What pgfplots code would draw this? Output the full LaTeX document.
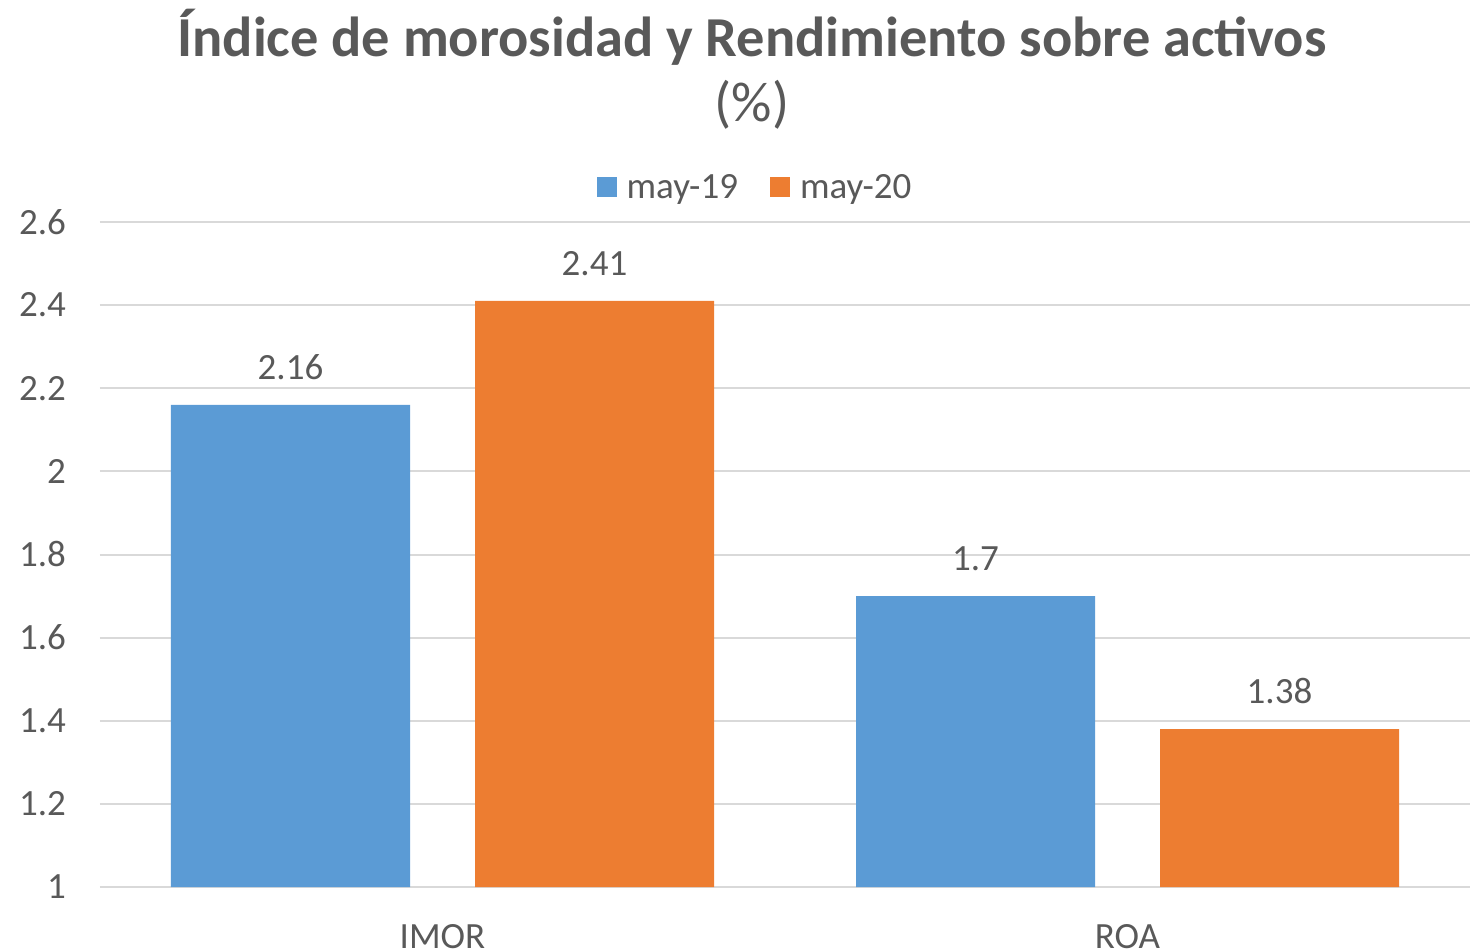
\documentclass[border=0pt]{standalone}
\usepackage{fontspec}
\setmainfont{Carlito}
\usepackage{pgfplots}
\pgfplotsset{compat=1.18}
\definecolor{cblue}{HTML}{5B9BD5}
\definecolor{corange}{HTML}{ED7D31}
\definecolor{txt}{HTML}{595959}
\definecolor{gridc}{HTML}{D9D9D9}
\newcommand{\lbl}{\fontsize{18.5}{22}\selectfont}
\begin{document}
\begin{tikzpicture}
\begin{axis}[
  scale only axis,
  width=685pt, height=332.5pt,
  ybar, bar width=119.5pt,
  xmin=-0.5, xmax=1.5,
  ymin=1, ymax=2.6,
  ytick={1,1.2,...,2.6},
  xtick={0,1}, xticklabels={IMOR,ROA},
  /pgf/number format/assume math mode=true,
  axis y line=left,
  y axis line style={draw=none},
  axis x line*=bottom,
  x axis line style={draw=gridc, line width=1pt},
  ymajorgrids, grid style={draw=gridc, line width=1pt},
  major tick length=0pt,
  tick label style={font=\lbl, text=txt},
  yticklabel style={xshift=-13.5pt},
  xticklabel style={yshift=-15pt},
  yticklabel={\pgfmathprintnumber{\tick}},
  nodes near coords,
  nodes near coords style={font=\lbl, text=txt, yshift=9pt},
  legend style={draw=none, font=\lbl, text=txt, at={(328pt,349.5pt)}, anchor=center,
    /tikz/every even column/.append style={column sep=14pt}},
  legend columns=2,
  legend image code/.code={\fill[#1] (0pt,-4.5pt) rectangle (10pt,5.5pt);},
  clip=false,
]
\addplot[fill=cblue, draw=none, bar shift=-76pt] coordinates {(0,2.16) (1,1.7)};
\addplot[fill=corange, draw=none, bar shift=76pt] coordinates {(0,2.41) (1,1.38)};
\legend{\hspace{3pt}may-19, \hspace{3pt}may-20}
\end{axis}
\node[text=txt, font=\fontsize{28.2}{34}\selectfont\bfseries] at (326pt,425pt) {Índice de morosidad y Rendimiento sobre activos};
\node[text=txt, font=\fontsize{28.2}{34}\selectfont] at (326pt,391pt) {(\%)};
\pgfresetboundingbox
\path (-50pt,-31.5pt) rectangle (689pt,443.5pt);
\end{tikzpicture}
\end{document}
